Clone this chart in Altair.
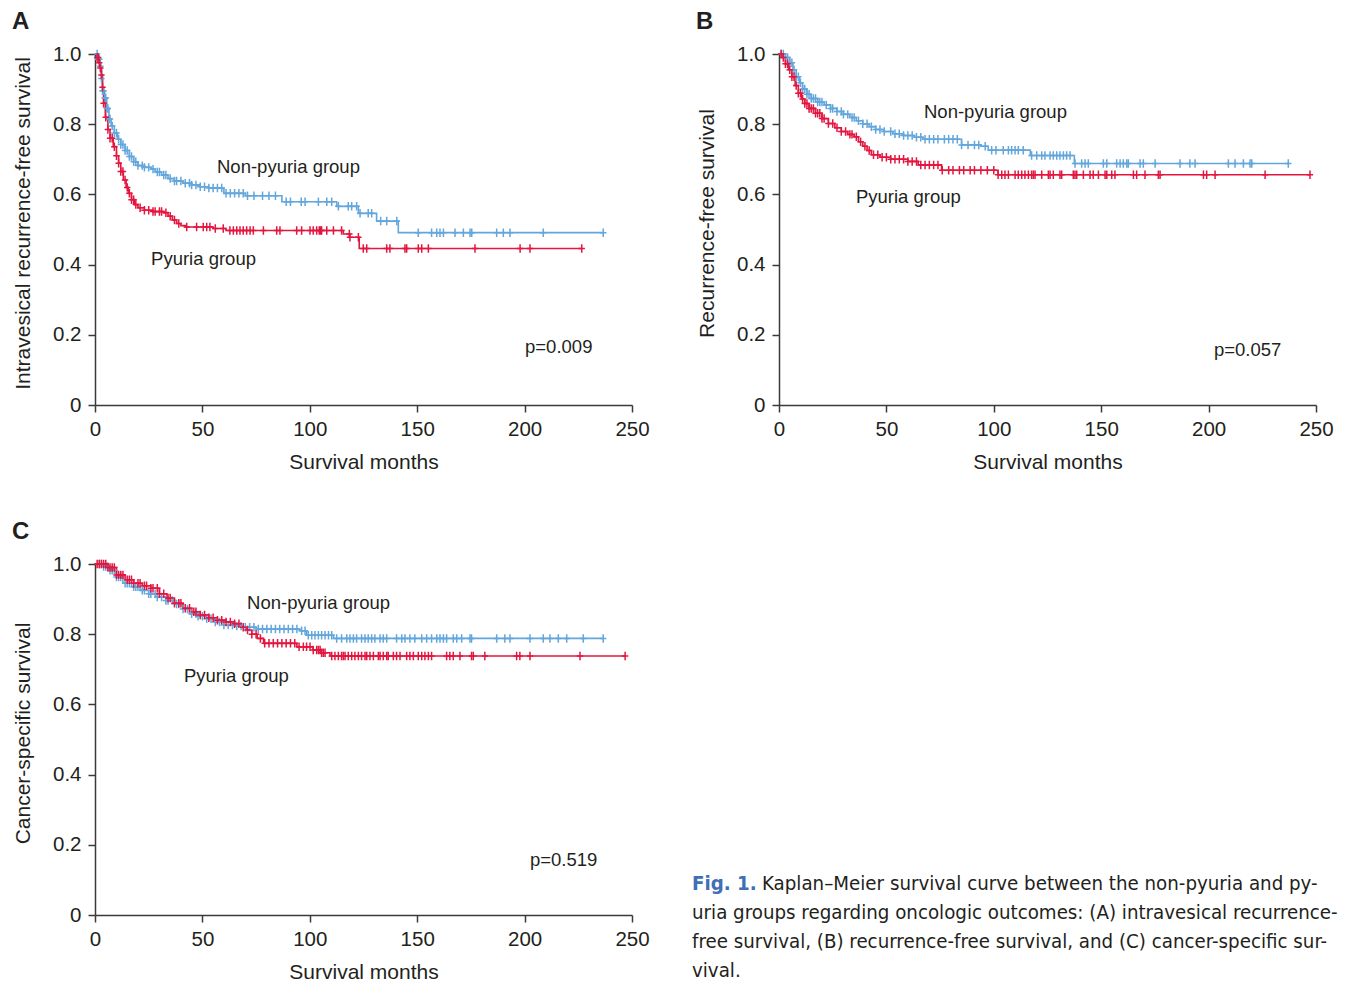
import altair as alt
import pandas as pd
import numpy as np

BLUE = "#62a6dc"
RED = "#e2163f"
FONT = "Liberation Sans"

# ---------------- Panel A: intravesical recurrence-free survival ----------------
a_non_t = [0, 1.5, 2.5, 3, 3.5, 4.5, 5.5, 6.5, 7.5, 9, 10.5, 12, 14, 16, 18, 20, 23, 26, 28, 31, 34, 37,
           41, 45, 49, 53, 60, 70, 87, 112.5, 122.6, 131.1, 141.2, 236.6]
a_non_s = [1.0, 0.985, 0.965, 0.93, 0.895, 0.875, 0.845, 0.815, 0.795, 0.775, 0.757, 0.742, 0.725, 0.708,
           0.693, 0.682, 0.677, 0.672, 0.664, 0.655, 0.645, 0.638, 0.632, 0.627, 0.622, 0.618, 0.603, 0.596,
           0.579, 0.566, 0.546, 0.524, 0.491, 0.491]
a_non_c = [1, 1.5, 2, 2.5, 3, 3.5, 4, 4.5, 5, 5.5, 6, 6.5, 7, 8, 9, 10, 11, 12, 13, 14, 15, 16, 17, 18, 19,
           20, 22, 23, 25, 27, 29, 30, 32, 33, 35, 37, 38, 40, 42, 44, 45, 47, 49, 51, 53, 55, 57, 59, 61,
           63, 65, 67, 69, 71, 74, 78, 81, 84, 89, 91, 96, 97.8, 104, 107.9, 110.2, 113.3, 117.9, 119.5,
           121.8, 123.4, 127.2, 128.8, 133, 135.8, 140.5, 150.5, 156.7, 159.1, 160.6, 162.2, 167.6, 171.5,
           174.6, 175.4, 187, 190.1, 193.2, 208.7, 236.6]
a_py_t = [0, 1, 2, 2.5, 3, 3.5, 4, 4.8, 6, 7, 8.5, 10, 11, 12, 13.2, 14.5, 15.5, 17, 18.5, 20, 23, 27, 32,
          34, 36, 38, 40, 42, 55, 61, 115.6, 118.5, 123, 226.6]
a_py_s = [1.0, 0.99, 0.975, 0.96, 0.94, 0.905, 0.86, 0.82, 0.785, 0.76, 0.736, 0.71, 0.689, 0.665, 0.641,
          0.62, 0.603, 0.585, 0.571, 0.562, 0.555, 0.551, 0.548, 0.538, 0.527, 0.517, 0.511, 0.507, 0.503,
          0.497, 0.487, 0.478, 0.446, 0.446]
a_py_c = [1, 1.5, 2, 2.5, 3, 3.5, 4, 5, 6, 7, 8, 9, 10, 11, 12, 13, 14, 15, 16, 17, 18, 19, 21, 23, 25, 27,
          28, 30, 31, 33, 35, 37, 39, 42.7, 47.3, 50.4, 52, 53.5, 56, 59.7, 62.8, 64.4, 66, 67.5, 69, 70.6,
          72.2, 73.7, 78.4, 84.6, 86.1, 93.9, 96.2, 100.1, 101.6, 103.2, 104.4, 105.1, 105.5, 107.9, 111,
          114.8, 118.4, 118.7, 122.6, 124.9, 126.5, 135.8, 137.3, 144.3, 145.1, 150.5, 152.1, 155.2, 176.9,
          197.9, 202.5, 226.6]

# ---------------- Panel B: recurrence-free survival ----------------
b_non_t = [0, 3, 5, 6.5, 8, 9.5, 11, 13, 15, 18, 21, 24, 27, 30, 33, 36, 39, 42, 45, 49, 53, 58, 63, 67,
           85, 94, 97.4, 117, 137.5, 237.4]
b_non_s = [1.0, 0.99, 0.975, 0.955, 0.935, 0.918, 0.9, 0.885, 0.873, 0.863, 0.855, 0.845, 0.836, 0.828,
           0.819, 0.81, 0.801, 0.793, 0.785, 0.779, 0.773, 0.768, 0.763, 0.757, 0.741, 0.737, 0.726, 0.711,
           0.688, 0.688]
b_non_c = [1, 2, 3, 4, 5, 6, 7, 8, 9, 10, 11, 12, 13, 14, 15, 16, 17, 18, 19, 20, 22, 24, 25, 27, 29, 30,
           32, 34, 35, 37, 39, 41, 43, 45, 47, 49, 52, 54, 56, 58, 60, 62, 64, 66, 68, 70, 72, 74, 77, 79,
           81, 83, 85, 88, 91, 93, 96, 99, 101, 104.4, 106.8, 108.3, 109.9, 111.4, 113.7, 117.6, 120, 122.3,
           123.8, 126.2, 127.7, 129.3, 130.8, 132.4, 133.9, 135.5, 137.8, 140.9, 142.5, 144, 151, 152.6,
           157.2, 158.8, 160.3, 161.9, 162.6, 168.1, 169.6, 175.1, 186.7, 191.3, 193.7, 209.2, 212.3,
           216.2, 219.3, 220.1, 237.1]
b_py_t = [0, 1.5, 3, 4.5, 6, 7.5, 9, 10.5, 12, 14, 17, 20, 23, 26, 29, 32, 35, 37, 39, 41, 43, 47, 52, 60,
          64.8, 75.7, 102, 247.2]
b_py_s = [1.0, 0.99, 0.972, 0.955, 0.935, 0.91, 0.888, 0.872, 0.859, 0.845, 0.831, 0.816, 0.802, 0.79,
          0.779, 0.771, 0.764, 0.75, 0.737, 0.725, 0.713, 0.706, 0.7, 0.694, 0.684, 0.669, 0.656, 0.656]
b_py_c = [1, 2, 3, 4, 5, 6, 7, 8, 9, 10, 11, 12, 13, 14, 15, 16, 17, 18, 19, 20, 21, 23, 25, 27, 29, 31,
          33, 34, 36, 38, 40, 42, 44, 46, 48, 50, 52, 54, 56, 58, 60, 62, 64, 66, 68, 70, 72, 74, 76, 79,
          81, 84, 86, 89, 91, 94, 97, 100, 102, 103.7, 105.2, 106.8, 109.9, 111.4, 113, 114.5, 116.1,
          117.6, 118.4, 119.2, 122.3, 125.4, 126.2, 127.7, 130.8, 131.6, 137, 137.8, 138.6, 141.7, 144.8,
          146.3, 148.7, 151.8, 152.6, 154.9, 156.4, 165, 166.5, 170.4, 176.6, 177.4, 197.6, 199.1, 203,
          226.3, 247.2]

# ---------------- Panel C: cancer-specific survival ----------------
c_non_t = [0, 4, 7, 10, 13, 17, 21, 25, 29, 33, 37, 41, 44, 48, 52, 56, 60, 65, 69, 75, 95.4, 98.5, 111,
           236.6]
c_non_s = [1.0, 0.993, 0.982, 0.963, 0.945, 0.935, 0.925, 0.915, 0.906, 0.896, 0.886, 0.872, 0.858, 0.851,
           0.844, 0.835, 0.826, 0.823, 0.82, 0.815, 0.81, 0.797, 0.788, 0.788]
c_non_c = [2, 3, 4, 5, 6, 7, 8, 9, 10, 11, 12, 14, 15, 16, 18, 19, 20, 22, 23, 25, 26, 28, 29, 31, 33, 34,
           36, 38, 39, 41, 43, 45, 47, 48, 50, 52, 54, 56, 58, 60, 62, 64, 66, 68, 70, 72, 74, 76, 78, 80,
           82, 84, 86, 88, 90, 92, 94, 96.2, 97.8, 99.3, 100.9, 102.4, 104, 105.5, 107.1, 108.7, 110.2,
           112.5, 114.8, 117.2, 118.7, 120.3, 121.8, 124.1, 125.7, 127.2, 128.8, 130.3, 132.7, 134.2, 135.8,
           140.4, 142.8, 144.3, 146.6, 148.9, 152.1, 154.4, 156.7, 159.1, 160.6, 162.2, 163.7, 166.8, 168.4,
           170.7, 174.6, 175.3, 187, 190.8, 193.2, 202.5, 208.7, 211.8, 215.7, 219.6, 227.3, 236.6]
c_py_t = [0, 6, 10, 14, 18, 22, 26, 30, 33.5, 37, 41, 45, 49, 53, 57, 61, 65, 68, 70.5, 73, 75.5, 78.5, 94,
          101.5, 105, 109.4, 246.8]
c_py_s = [1.0, 0.99, 0.969, 0.955, 0.945, 0.938, 0.931, 0.915, 0.903, 0.888, 0.874, 0.864, 0.855, 0.847,
          0.84, 0.835, 0.83, 0.82, 0.812, 0.8, 0.788, 0.774, 0.764, 0.755, 0.747, 0.738, 0.738]
c_py_c = [1, 2, 3, 4, 5, 6, 7, 8, 9, 10, 11, 12, 13, 15, 16, 17, 18, 20, 21, 23, 24, 26, 27, 29, 30, 32, 34,
          35, 37, 39, 40, 42, 44, 46, 47, 49, 51, 53, 55, 57, 59, 61, 63, 65, 67, 69, 71, 73, 75, 77, 79,
          81, 83, 85, 87, 89, 91, 93, 95, 97, 98.5, 100.1, 101.6, 103.2, 104, 104.8, 105.5, 106.3, 107.1,
          110.2, 111.7, 113.3, 114.8, 115.6, 116.4, 117.9, 119.5, 121, 122.6, 124.1, 125.7, 126.5, 128,
          129.6, 131.9, 132.7, 134.2, 135.8, 136.5, 138.9, 140.4, 142, 145.1, 146.6, 148.2, 150.5, 152.1,
          153.6, 155.2, 156.7, 163.7, 165.2, 166.8, 169.9, 175.3, 176.1, 181.5, 196.3, 197.8, 202.5,
          225.8, 246.8]

# annotations (label, time, survival)
a_notes = [("Non-pyuria group", 56.8, 0.678), ("Pyuria group", 26.1, 0.416), ("p=0.009", 200.2, 0.165)]
b_notes = [("Non-pyuria group", 67.5, 0.835), ("Pyuria group", 35.8, 0.593), ("p=0.057", 202.5, 0.157)]
c_notes = [("Non-pyuria group", 70.8, 0.889), ("Pyuria group", 41.4, 0.681), ("p=0.519", 202.5, 0.157)]

caption_lines = [
    "Kaplan\u2013Meier survival curve between the non-pyuria and py-",
    "uria groups regarding oncologic outcomes: (A) intravesical recurrence-",
    "free survival, (B) recurrence-free survival, and (C) cancer-specific sur-",
    "vival.",
]

PLUS = "M-0.75,0H0.75M0,-1V1"


def step_lookup(times, survs, pts):
    times = np.asarray(times, dtype=float)
    survs = np.asarray(survs, dtype=float)
    idx = np.searchsorted(times, np.asarray(pts, dtype=float), side="right") - 1
    idx = np.clip(idx, 0, len(survs) - 1)
    return survs[idx]


def panel(non_t, non_s, non_c, py_t, py_s, py_c, ytitle, notes, letter):
    line_df = pd.concat([
        pd.DataFrame({"group": "Non-pyuria", "time": non_t, "surv": non_s}),
        pd.DataFrame({"group": "Pyuria", "time": py_t, "surv": py_s}),
    ], ignore_index=True)
    cens_df = pd.concat([
        pd.DataFrame({"group": "Non-pyuria", "time": non_c, "surv": step_lookup(non_t, non_s, non_c)}),
        pd.DataFrame({"group": "Pyuria", "time": py_c, "surv": step_lookup(py_t, py_s, py_c)}),
    ], ignore_index=True)
    note_df = pd.DataFrame(notes, columns=["label", "time", "surv"])

    x = alt.X("time:Q", scale=alt.Scale(domain=[0, 250], nice=False, zero=False),
              axis=alt.Axis(values=[0, 50, 100, 150, 200, 250], title="Survival months",
                            labelPadding=7.5, titlePadding=11, labelFlush=False))
    y = alt.Y("surv:Q", scale=alt.Scale(domain=[0, 1], nice=False),
              axis=alt.Axis(values=[0, 0.2, 0.4, 0.6, 0.8, 1.0], title=ytitle,
                            labelExpr="datum.value == 0 ? '0' : format(datum.value, '.1f')",
                            labelPadding=7, titlePadding=19, titleY=169, labelFlush=False))
    color = alt.Color("group:N", scale=alt.Scale(domain=["Non-pyuria", "Pyuria"], range=[BLUE, RED]),
                      legend=None)

    lines = alt.Chart(line_df).mark_line(interpolate="step-after", strokeWidth=1.6).encode(
        x=x, y=y, color=color, order=alt.Order("time:Q"))
    cens = alt.Chart(cens_df).mark_point(shape=PLUS, filled=False, size=72, strokeWidth=1.5,
                                         opacity=1).encode(x="time:Q", y="surv:Q", color=color)
    txt = alt.Chart(note_df).mark_text(align="left", baseline="middle", font=FONT, fontSize=18.5,
                                       color="#231f20").encode(x="time:Q", y="surv:Q", text="label:N")
    let = alt.Chart(pd.DataFrame({"l": [letter]})).mark_text(
        align="left", baseline="alphabetic", font=FONT, fontSize=24, fontWeight="bold",
        color="#231f20").encode(x=alt.value(-83), y=alt.value(-25), text="l:N")
    return alt.layer(lines, cens, txt, let).properties(width=537, height=351)


A = panel(a_non_t, a_non_s, a_non_c, a_py_t, a_py_s, a_py_c,
          "Intravesical recurrence-free survival", a_notes, "A")
B = panel(b_non_t, b_non_s, b_non_c, b_py_t, b_py_s, b_py_c,
          "Recurrence-free survival", b_notes, "B")
C = panel(c_non_t, c_non_s, c_non_c, c_py_t, c_py_s, c_py_c,
          "Cancer-specific survival", c_notes, "C")

CAP_FONT = "Liberation Sans Narrow, DejaVu Sans Condensed, sans-serif"
CAP_SIZE = 20.3
cap_layers = [
    alt.Chart(pd.DataFrame({"t": ["Fig. 1."]})).mark_text(
        align="left", baseline="alphabetic", font=CAP_FONT, fontSize=CAP_SIZE, fontWeight="bold",
        color="#3f6fb5"
    ).encode(x=alt.value(-87), y=alt.value(326), text="t:N")
]
cap_x = [-17, -87, -87, -87]
for i, line in enumerate(caption_lines):
    cap_layers.append(
        alt.Chart(pd.DataFrame({"t": [line]})).mark_text(
            align="left", baseline="alphabetic", font=CAP_FONT, fontSize=CAP_SIZE, color="#231f20"
        ).encode(x=alt.value(cap_x[i]), y=alt.value(326 + 29 * i), text="t:N")
    )
CAP = alt.layer(*cap_layers).properties(width=537, height=351)

chart = alt.concat(A, B, C, CAP, columns=2, spacing={"row": 159, "column": 147}, bounds="flush").configure_view(
    stroke=None
).configure_axis(
    grid=False, domainColor="#3a3a3a", domainWidth=1.5, tickColor="#3a3a3a", tickWidth=1.5, tickSize=7,
    labelFont=FONT, labelFontSize=20.5, labelColor="#231f20",
    titleFont=FONT, titleFontSize=21, titleFontWeight="normal", titleColor="#231f20"
).properties(padding={"left": 4, "top": 2, "right": 0, "bottom": 0})

chart.save("out.html", embed_options={"renderer": "svg", "actions": False})
